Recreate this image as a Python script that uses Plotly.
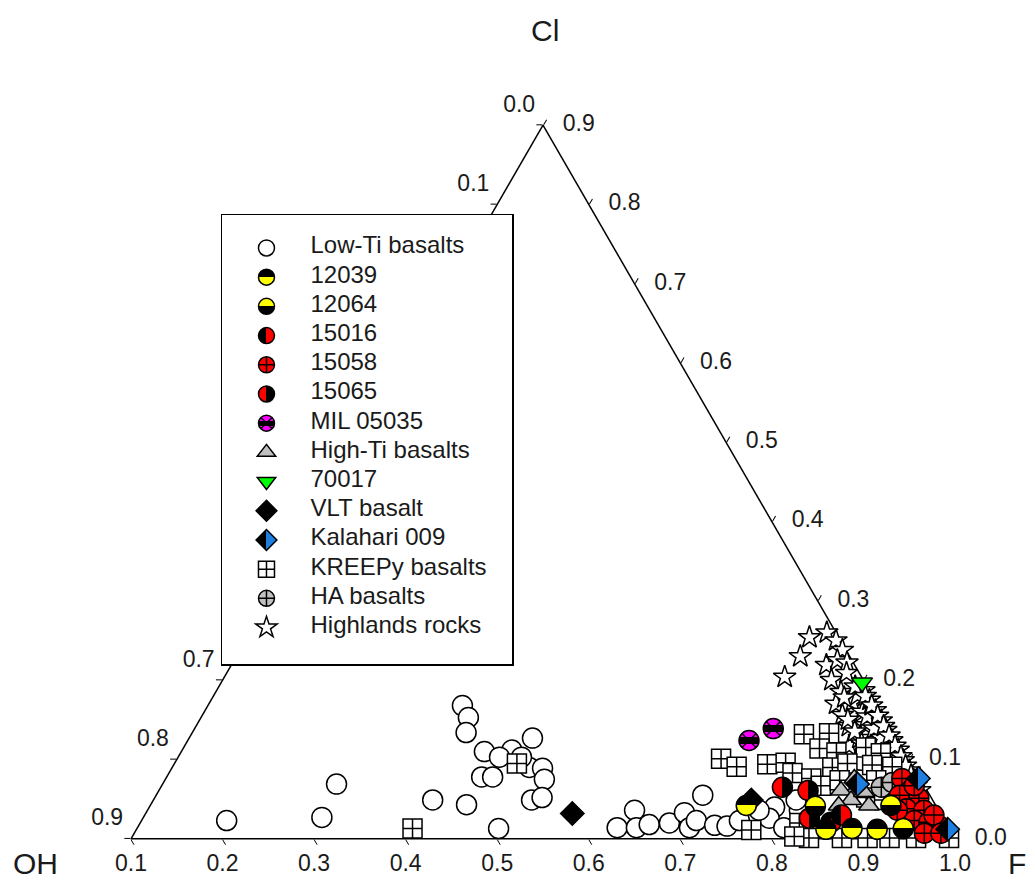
import plotly.graph_objects as go

FONT = "Liberation Sans, Arial, sans-serif"
INK = "#1a1a1a"

# ---- tick labels along the three edges ----
cl_ticks = [0.0, 0.1, 0.2, 0.3, 0.4, 0.5, 0.6, 0.7, 0.8, 0.9]
oh_ticks = [0.9, 0.8, 0.7, 0.6, 0.5, 0.4, 0.3, 0.2, 0.1, 0.0]
f_ticks = [0.1, 0.2, 0.3, 0.4, 0.5, 0.6, 0.7, 0.8, 0.9, 1.0]
# OH labels on the left edge that are not behind the legend box
oh_labelled = [0.9, 0.8, 0.7, 0.1, 0.0]

# ---- apatite volatile compositions (mole fractions of F and Cl; OH is the remainder) ----
low_ti_F = [0.193, 0.295, 0.290, 0.405, 0.445, 0.495, 0.378, 0.392, 0.399, 0.431,
            0.475, 0.460, 0.451, 0.444, 0.456, 0.490, 0.505, 0.514, 0.513, 0.523,
            0.475, 0.624, 0.632, 0.645, 0.657, 0.678, 0.688, 0.703, 0.697, 0.706,
            0.729, 0.743, 0.753, 0.783, 0.784, 0.806, 0.768, 0.812, 0.848, 0.802]
low_ti_Cl = [0.023, 0.027, 0.069, 0.049, 0.043, 0.013, 0.168, 0.153, 0.134, 0.110,
             0.127, 0.112, 0.103, 0.078, 0.078, 0.090, 0.089, 0.075, 0.049, 0.052,
             0.103, 0.014, 0.036, 0.014, 0.018, 0.020, 0.033, 0.014, 0.055, 0.023,
             0.017, 0.016, 0.023, 0.040, 0.026, 0.014, 0.036, 0.036, 0.099, 0.049]

s12039_F = [0.751, 0.853, 0.881, 0.909]
s12039_Cl = [0.042, 0.012, 0.013, 0.012]

s12064_F = [0.827, 0.909, 0.937]
s12064_Cl = [0.041, 0.042, 0.013]

s15016_F = [0.854, 0.861]
s15016_Cl = [0.021, 0.030]

s15058_F = [0.904, 0.921, 0.912, 0.935, 0.928, 0.948, 0.944, 0.961, 0.975, 0.963,
            0.919, 0.962, 0.922, 0.981]
s15058_Cl = [0.076, 0.061, 0.055, 0.051, 0.038, 0.036, 0.023, 0.021, 0.016, 0.007,
             0.036, 0.030, 0.067, 0.007]

s15065_F = [0.779, 0.809, 0.828]
s15065_Cl = [0.065, 0.061, 0.026]

mil_F = [0.713, 0.732]
mil_Cl = [0.124, 0.139]

high_ti_F = [0.845, 0.862, 0.871, 0.852, 0.852, 0.885]
high_ti_Cl = [0.061, 0.049, 0.059, 0.042, 0.076, 0.042]

s70017_F = [0.800]
s70017_Cl = [0.197]

vlt_F = [0.566, 0.753]
vlt_Cl = [0.032, 0.049]

kalahari_F = [0.859, 0.922, 0.986]
kalahari_Cl = [0.069, 0.076, 0.012]

kreep_F = [0.401, 0.474, 0.769, 0.796, 0.694, 0.716, 0.748, 0.767, 0.781, 0.772,
           0.820, 0.805, 0.795, 0.816, 0.845, 0.865, 0.821, 0.835, 0.863, 0.886,
           0.820, 0.837, 0.877, 0.877, 0.898, 0.840, 0.876, 0.904, 0.928, 0.957,
           0.993, 0.823, 0.905]
kreep_Cl = [0.013, 0.095, 0.132, 0.133, 0.101, 0.091, 0.094, 0.096, 0.083, 0.011,
            0.020, 0.076, 0.114, 0.109, 0.115, 0.108, 0.090, 0.095, 0.093, 0.091,
            0.067, 0.074, 0.074, 0.052, 0.049, 0.001, 0.001, 0.001, 0.001, 0.001,
            0.001, 0.003, 0.067]

ha_F = [0.887, 0.896]
ha_Cl = [0.065, 0.071]

highlands_F = [0.712, 0.716, 0.714, 0.730, 0.745, 0.758, 0.750, 0.759, 0.771, 0.765,
               0.777, 0.783, 0.785, 0.802, 0.799, 0.819, 0.813, 0.831, 0.826, 0.852,
               0.832, 0.807, 0.819, 0.832, 0.845, 0.856, 0.869, 0.882, 0.894, 0.907,
               0.918, 0.931, 0.803, 0.827, 0.842, 0.856, 0.870, 0.885, 0.849, 0.795,
               0.812, 0.825, 0.838, 0.851, 0.863, 0.876, 0.889, 0.900, 0.912, 0.924,
               0.790, 0.808, 0.823, 0.838]
highlands_Cl = [0.204, 0.230, 0.254, 0.260, 0.250, 0.238, 0.219, 0.225, 0.222, 0.200,
                0.209, 0.185, 0.170, 0.172, 0.156, 0.160, 0.142, 0.143, 0.117, 0.124,
                0.127, 0.187, 0.175, 0.162, 0.149, 0.137, 0.124, 0.112, 0.099, 0.086,
                0.074, 0.061, 0.181, 0.154, 0.139, 0.127, 0.112, 0.096, 0.109, 0.192,
                0.180, 0.168, 0.155, 0.142, 0.130, 0.117, 0.104, 0.092, 0.080, 0.067,
                0.178, 0.150, 0.135, 0.120]

fig = go.Figure()


def add_series(name, F, Cl, rank, uid, symbol, color, size=20, gradient=None):
    marker = dict(symbol=symbol, size=size, color=color,
                  line=dict(color="black", width=1.5))
    if gradient is not None:
        marker["gradient"] = dict(type=gradient[0], color=gradient[1])
    fig.add_trace(go.Scatterternary(
        a=Cl, c=F, mode="markers", uid=uid,
        name=f'<span style="font-size:24px">{name}</span>',
        legendgroup=uid, legendrank=rank,
        marker=marker, cliponaxis=False, hoverinfo="skip",
    ))


# drawing order (bottom to top); legend order set by rank
add_series("Highlands rocks", highlands_F, highlands_Cl, 14, "highlands", "star", "white", size=17)
add_series("Low-Ti basalts", low_ti_F, low_ti_Cl, 1, "lowti", "circle", "white")
add_series("KREEPy basalts", kreep_F, kreep_Cl, 12, "kreep", "square-cross", "white", size=19)
add_series("High-Ti basalts", high_ti_F, high_ti_Cl, 8, "highti", "triangle-up", "#c0c0c0", size=18)
add_series("HA basalts", ha_F, ha_Cl, 13, "ha", "circle-cross", "#c0c0c0")
add_series("VLT basalt", vlt_F, vlt_Cl, 10, "vlt", "diamond", "black", size=18)
add_series("15058", s15058_F, s15058_Cl, 5, "s15058", "circle-cross", "#ff0000")
add_series("15016", s15016_F, s15016_Cl, 4, "s15016", "circle", "black",
           gradient=("horizontal", "#ff0000"))
add_series("15065", s15065_F, s15065_Cl, 6, "s15065", "circle", "#ff0000",
           gradient=("horizontal", "black"))
add_series("12039", s12039_F, s12039_Cl, 2, "s12039", "circle", "black",
           gradient=("vertical", "#ffff00"))
add_series("12064", s12064_F, s12064_Cl, 3, "s12064", "circle", "#ffff00",
           gradient=("vertical", "black"))
add_series("MIL 05035", mil_F, mil_Cl, 7, "mil05035", "circle-x", "black",
           gradient=("vertical", "#ff00ff"))
add_series("Kalahari 009", kalahari_F, kalahari_Cl, 11, "kalahari", "diamond", "black", size=18,
           gradient=("horizontal", "#1f7fe0"))
add_series("70017", s70017_F, s70017_Cl, 9, "s70017", "triangle-down", "#00ff00", size=18)

# blank closing row of the legend box: a legend-only entry, never plotted
fig.add_trace(go.Scatterternary(
    a=highlands_Cl[:1], c=highlands_F[:1], mode="markers", name=" ",
    legendgroup="highlands", legendrank=15, visible="legendonly",
    marker=dict(color="rgba(0,0,0,0)", line=dict(width=0)), hoverinfo="skip",
))


def fmt(vals):
    return [f"{v:.1f}" for v in vals]


def add_edge_labels(Cl, OH, F, labels, position, gap):
    # invisible markers of diameter `gap` push the text clear of the edge
    fig.add_trace(go.Scatterternary(
        a=Cl, b=OH, c=F, mode="markers+text", text=labels, textposition=position,
        textfont=dict(family=FONT, size=23, color=INK),
        marker=dict(size=gap, color="rgba(0,0,0,0)", line=dict(width=0)),
        showlegend=False, cliponaxis=False, hoverinfo="skip",
    ))


n = len(f_ticks)
# bottom edge (Cl = 0): F values
add_edge_labels([0.0] * n, oh_ticks, f_ticks, fmt(f_ticks), "bottom center", 22)
# right edge (OH = 0): Cl values
add_edge_labels(cl_ticks[::-1], [0.0] * n, f_ticks, fmt(cl_ticks[::-1]), "middle right", 30)
# left edge (F = 0.1): OH values
left = [i for i, v in enumerate(oh_ticks) if v in oh_labelled]
add_edge_labels([cl_ticks[i] for i in left], [oh_ticks[i] for i in left],
                [0.1] * len(left), fmt([oh_ticks[i] for i in left]), "top left", 11)

axis_common = dict(
    showgrid=False, showline=True, linecolor="black", linewidth=1.5,
    ticks="outside", ticklen=6, tickwidth=1.2, tickcolor="black",
    tickmode="array", showticklabels=False,
    layer="below traces", title=dict(text=" "),
)

fig.update_layout(
    width=1035, height=883,
    margin=dict(l=131, r=80, t=125, b=44),
    paper_bgcolor="white",
    font=dict(family=FONT, color=INK),
    ternary=dict(
        sum=1,
        bgcolor="white",
        domain=dict(x=[0, 1], y=[0, 1]),
        aaxis=dict(min=0, tickvals=cl_ticks, **axis_common),
        baxis=dict(min=0, tickvals=oh_ticks, **axis_common),
        caxis=dict(min=0.1, tickvals=f_ticks, **axis_common),
    ),
    legend=dict(
        x=0.1092, y=0.8754, xanchor="left", yanchor="top",
        bgcolor="white", bordercolor="black", borderwidth=1.5,
        font=dict(family=FONT, size=14, color=INK),
        tracegroupgap=8, itemwidth=78,
        title=dict(text="\u00a0" * 79, font=dict(size=13)),
    ),
    showlegend=True,
    annotations=[
        dict(text="Cl", x=0.5024, y=1.133, xref="paper", yref="paper",
             xanchor="center", yanchor="middle", showarrow=False,
             font=dict(family=FONT, size=30, color=INK)),
        dict(text="OH", x=-0.1165, y=-0.035, xref="paper", yref="paper",
             xanchor="center", yanchor="middle", showarrow=False,
             font=dict(family=FONT, size=30, color=INK)),
        dict(text="F", x=1.075, y=-0.035, xref="paper", yref="paper",
             xanchor="center", yanchor="middle", showarrow=False,
             font=dict(family=FONT, size=30, color=INK)),
    ],
)

# split-colour symbols: turn the two-stop marker gradients into hard colour fields
split_fill = """
var svgns = 'http://www.w3.org/2000/svg';
document.querySelectorAll('linearGradient').forEach(function (g) {
  var stops = g.querySelectorAll('stop');
  if (stops.length < 2) return;
  var lo = stops[0].getAttribute('stop-color');
  var hi = stops[stops.length - 1].getAttribute('stop-color');
  var bands;
  if (g.id.indexOf('mil') >= 0) {
    var dark = lo.replace(/\\s/g, '') === 'rgb(0,0,0)' ? lo : hi;
    var pink = dark === lo ? hi : lo;
    bands = [[0, pink], [34, pink], [34, dark], [66, dark], [66, pink], [100, pink]];
  } else {
    bands = [[0, lo], [50, lo], [50, hi], [100, hi]];
  }
  while (g.firstChild) g.removeChild(g.firstChild);
  bands.forEach(function (b) {
    var s = document.createElementNS(svgns, 'stop');
    s.setAttribute('offset', b[0] + '%');
    s.setAttribute('stop-color', b[1]);
    g.appendChild(s);
  });
});
"""

fig.write_html("out.html", post_script=split_fill)
